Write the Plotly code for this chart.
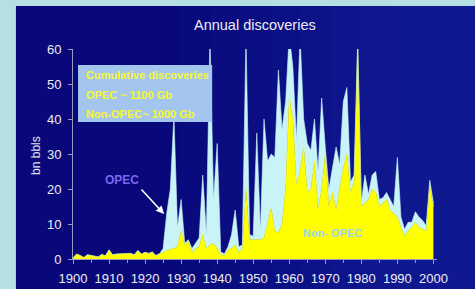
import plotly.graph_objects as go

years = list(range(1900, 2001))

non_opec = [
    0.3, 1.4, 1.0, 0.4, 1.2, 1.0, 0.7, 0.6, 1.3, 0.9,      # 1900-1909
    2.6, 1.2, 1.4, 1.5, 1.6, 1.7, 1.6, 1.2, 2.4, 1.4,      # 1910-1919
    1.9, 1.6, 2.0, 1.0, 1.5, 2.0, 2.5, 2.8, 3.0, 3.5,      # 1920-1929
    8.0, 4.0, 5.0, 1.8, 3.0, 3.5, 7.0, 3.0, 4.0, 4.5,      # 1930-1939
    3.0, 1.2, 1.0, 2.6, 3.0, 4.0, 1.8, 3.0, 20.0, 5.5,     # 1940-1949
    5.5, 5.5, 5.5, 6.0, 10.0, 14.5, 8.0, 7.5, 10.0, 20.0,  # 1950-1959
    46.0, 40.0, 21.0, 25.0, 32.0, 19.0, 20.0, 28.0, 14.0, 20.0,  # 1960-1969
    30.0, 15.0, 19.0, 14.0, 20.0, 26.0, 30.0, 19.0, 22.0, 61.0,  # 1970-1979
    15.0, 16.0, 17.0, 20.0, 19.0, 15.0, 16.0, 17.0, 14.0, 13.0,  # 1980-1989
    12.0, 9.0, 6.5, 8.0, 9.0, 10.5, 9.0, 8.5, 8.0, 21.0,   # 1990-1999
    15.0,                                                  # 2000
]

opec = [
    0, 0, 0, 0, 0, 0, 0, 0, 0, 0,                          # 1900-1909
    0, 0, 0, 0, 0, 0, 0, 0, 0, 0,                          # 1910-1919
    0, 0, 0, 0, 0, 1.0, 10.5, 17.2, 38.0, 5.5,             # 1920-1929
    9.0, 0.5, 0.5, 1.2, 1.5, 2.5, 17.0, 4.0, 60.0, 12.5,   # 1930-1939
    30.0, 0.8, 0.5, 0.9, 4.0, 10.0, 1.7, 1.0, 44.0, 1.5,   # 1940-1949
    1.0, 30.5, 2.5, 34.0, 18.0, 15.5, 21.0, 46.5, 27.0, 25.0,  # 1950-1959
    18.0, 15.0, 13.0, 39.0, 8.0, 14.0, 11.0, 12.0, 11.0, 26.0,  # 1960-1969
    2.0, 5.0, 7.0, 18.0, 7.0, 19.0, 19.0, 3.0, 2.0, 1.5,   # 1970-1979
    1.0, 8.0, 1.5, 4.0, 6.0, 2.0, 1.5, 2.0, 3.0, 2.0,      # 1980-1989
    17.0, 3.0, 2.0, 2.5, 1.5, 3.0, 3.0, 2.5, 1.5, 1.5,     # 1990-1999
    1.0,                                                   # 2000
]

title_text = "Annual discoveries"
y_title = "bn bbls"
box_lines = ["Cumulative discoveries", "OPEC ~ 1100 Gb", "Non-OPEC~ 1000 Gb"]

FONT = "Liberation Sans, Arial, sans-serif"

fig = go.Figure()
fig.add_trace(go.Scatter(
    x=years, y=non_opec, stackgroup="one", mode="lines",
    line=dict(width=0.6, color="#ffff00"), fillcolor="#ffff00", name="Non-OPEC",
))
fig.add_trace(go.Scatter(
    x=years, y=opec, stackgroup="one", mode="lines",
    line=dict(width=0.6, color="#c8f3f7"), fillcolor="#c8f3f7", name="OPEC",
))

# pixel helpers (plot area: x 73..436.6, y 49..259)
L, R, T, B = 73, 38.4, 49, 30
W = 475 - L - R
H = 289 - T - B
def px(xp):
    return (xp - L) / W
def py(yp):
    return (289 - B - yp) / H

shapes = [
    dict(type="rect", xref="paper", yref="paper", layer="below",
         x0=px(16), x1=px(476), y0=py(6), y1=py(290),
         fillcolor="#08087a", line=dict(width=0)),
]
# soft brightening toward the right (background glow)
for k in range(8):
    shapes.append(dict(type="rect", xref="paper", yref="paper", layer="below",
                       x0=px(180 + k * 30), x1=px(476), y0=py(6), y1=py(290),
                       fillcolor="rgba(40,70,220,0.045)", line=dict(width=0)))
shapes.append(dict(type="rect", xref="paper", yref="paper", layer="above",
                   x0=px(78), x1=px(212), y0=py(122), y1=py(65),
                   fillcolor="#a4c6ee", line=dict(width=0)))

def ann(text, xp, yp, size, color, **kw):
    d = dict(text=text, x=px(xp), y=py(yp), xref="paper", yref="paper",
             xanchor="center", yanchor="middle", showarrow=False,
             font=dict(family=FONT, size=size, color=color))
    d.update(kw)
    return d

annotations = [
    ann(title_text, 255, 25, 14.5, "#ececf4"),
    ann(y_title, 36, 155, 12, "#e4e4ec", textangle=-90),
    ann("<b>OPEC</b>", 122, 180, 12, "#7a66ee"),
    ann("<b>Non- OPEC</b>", 332, 233, 11, "#9cd6e6"),
    dict(text="", x=px(164), y=py(214), xref="paper", yref="paper",
         showarrow=True, ax=-24, ay=-26, arrowcolor="#ffffff", arrowwidth=1.6,
         arrowhead=2, arrowsize=1),
]
for line, ypix in zip(box_lines, [75, 95, 114]):
    annotations.append(ann("<b>" + line + "</b>", 84, ypix, 11, "#f6f636", xanchor="left"))

fig.update_layout(
    width=475, height=289,
    margin=dict(l=L, r=R, t=T, b=B, pad=0),
    paper_bgcolor="#b6dfe3",
    plot_bgcolor="rgba(0,0,0,0)",
    showlegend=False,
    shapes=shapes,
    annotations=annotations,
    xaxis=dict(range=[1900, 2001], dtick=10, tick0=1900, showgrid=False, zeroline=False,
               showline=True, linecolor="#9a9ac0", linewidth=1, automargin=False,
               ticks="outside", ticklen=4, tickcolor="#9a9ac0", ticklabelstandoff=3,
               minor=dict(dtick=5, ticks="outside", ticklen=3, tickcolor="#9a9ac0"),
               tickfont=dict(family=FONT, size=13, color="#ececf4")),
    yaxis=dict(range=[0, 60], dtick=10, showgrid=False, zeroline=False,
               showline=True, linecolor="#9a9ac0", linewidth=1, automargin=False,
               ticks="outside", ticklen=4, tickcolor="#9a9ac0", ticklabelstandoff=4,
               tickfont=dict(family=FONT, size=13, color="#ececf4")),
)

fig.write_html("out.html", config={"displayModeBar": False},
               post_script="document.body.style.margin='0';document.body.style.overflow='hidden';")
